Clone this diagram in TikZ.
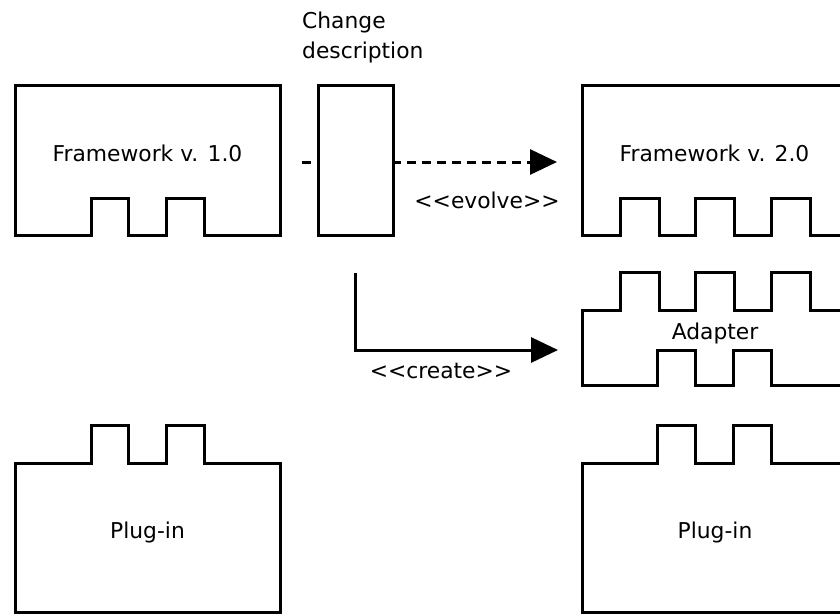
\documentclass[tikz,border=0pt]{standalone}
\usepackage{fontspec}
\newfontfamily\dejavu{DejaVu Sans}
\usetikzlibrary{arrows.meta}
\tikzset{
  part/.style={draw=black, fill=white, line width=3pt, line join=miter},
  txt/.style={font=\dejavu\fontsize{21.8}{30}\selectfont, inner sep=0pt},
  label/.style={txt, anchor=base},
  conn/.style={draw=black, line width=3pt, -{Triangle[length=27pt,width=25pt]}},
}
\begin{document}
\begin{tikzpicture}[x=1pt, y=-1pt]
\useasboundingbox (0,0) rectangle (840,614);
\clip (0,0) rectangle (840,614);

% evolve connector (drawn first, the change description box sits on top)
\coordinate (evS) at (302,162);
\coordinate (evE) at (557,162);
\draw[conn, dash pattern=on 9pt off 6pt] (evS) -- (evE);

% Framework v. 1.0 with two sockets at the bottom
\draw[part] (15,85) -- (280,85) -- (280,235) -- (204,235) -- (204,198) -- (166,198)
  -- (166,235) -- (128,235) -- (128,198) -- (91,198) -- (91,235) -- (15,235) -- cycle;
\node[label] (fw1) at (147.5,161) {Framework v. 1.0};

% change description box
\draw[part] (318,85) rectangle (393,235);
\node[txt, anchor=north west, align=left] (chg) at (302,11.5) {Change\\description};

% Framework v. 2.0 with three sockets
\draw[part] (582,85) -- (848,85) -- (848,235) -- (810,235) -- (810,198) -- (771,198)
  -- (771,235) -- (734,235) -- (734,198) -- (695,198) -- (695,235) -- (659,235)
  -- (659,198) -- (620,198) -- (620,235) -- (582,235) -- cycle;
\node[label] (fw2) at (714.5,161) {Framework v. 2.0};

\node[label] (evolve) at (487,208) {<<evolve>>};

% Adapter: three plugs on top, two sockets underneath
\draw[part] (582,310) -- (620,310) -- (620,272) -- (659,272) -- (659,310) -- (695,310)
  -- (695,272) -- (734,272) -- (734,310) -- (771,310) -- (771,272) -- (810,272)
  -- (810,310) -- (848,310) -- (848,385) -- (771,385) -- (771,350) -- (733,350)
  -- (733,385) -- (695,385) -- (695,350) -- (657,350) -- (657,385) -- (582,385) -- cycle;
\node[label] (adapter) at (715,339) {Adapter};

% create connector
\coordinate (crS) at (355,273);
\coordinate (crE) at (558,350);
\draw[conn] (crS) |- (crE);
\node[label] (create) at (441,378) {<<create>>};

% plug-ins
\draw[part] (15,463) -- (91,463) -- (91,425) -- (128,425) -- (128,463) -- (166,463)
  -- (166,425) -- (204,425) -- (204,463) -- (280,463) -- (280,612) -- (15,612) -- cycle;
\node[label] (pl1) at (147.5,538) {Plug-in};

\draw[part] (582,463) -- (657,463) -- (657,425) -- (695,425) -- (695,463) -- (733,463)
  -- (733,425) -- (771,425) -- (771,463) -- (848,463) -- (848,612) -- (582,612) -- cycle;
\node[label] (pl2) at (715,538) {Plug-in};
\end{tikzpicture}
\end{document}
